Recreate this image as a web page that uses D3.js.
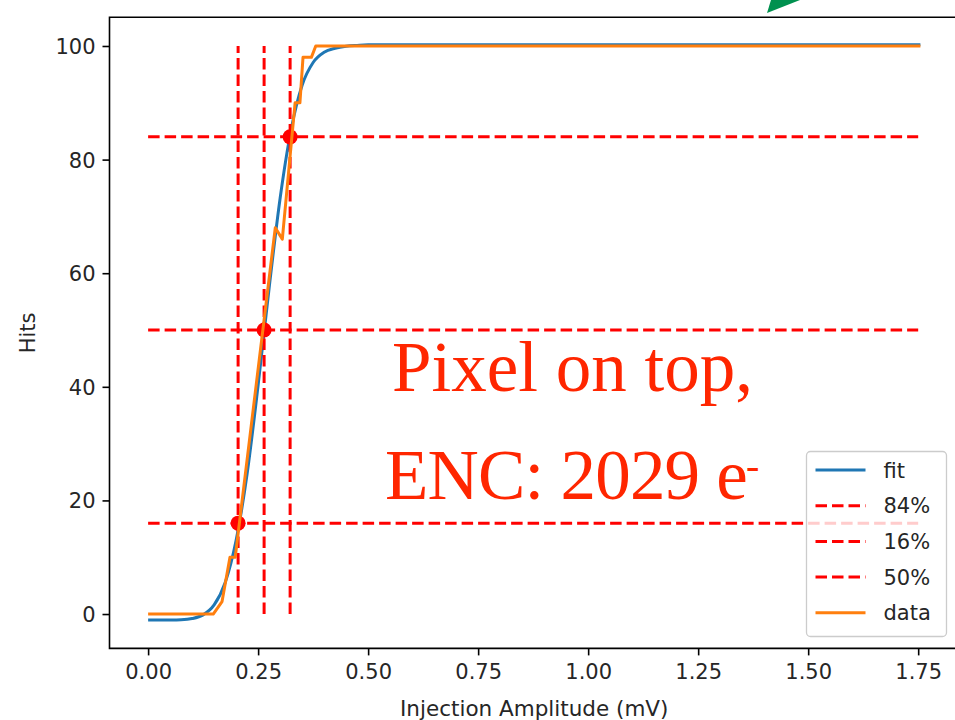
<!DOCTYPE html>
<html>
<head>
<meta charset="utf-8">
<script src="https://cdn.jsdelivr.net/npm/d3@7"></script>
<style>
  html, body { margin: 0; padding: 0; background: #fff; overflow: hidden; }
  svg { display: block; overflow: hidden; }
</style>
</head>
<body>
<div id="chart"></div>
<script>
// fitted s-curve
const fitX = [0, 0.025, 0.05, 0.075, 0.1, 0.125, 0.15, 0.175, 0.2, 0.225, 0.25, 0.275,
  0.3, 0.325, 0.35, 0.375, 0.4, 0.425, 0.45, 0.475, 0.5, 0.6, 0.8, 1.0, 1.25, 1.5, 1.755];
const fitY = [-1.05, -1.05, -1.04, -1.0, -0.8, -0.15, 1.6, 5.5, 13.0, 24.7, 40.3, 57.4,
  73.2, 85.3, 93.1, 97.1, 98.9, 99.6, 99.95, 100.1, 100.2, 100.2, 100.2, 100.2, 100.2, 100.2, 100.2];

// measured hits
const dataX = [0, 0.148, 0.168, 0.186, 0.198, 0.289, 0.305, 0.334, 0.345, 0.352, 0.371, 0.381, 1.755];
const dataY = [0, 0, 2.2, 10, 10, 68, 66, 90, 90, 98, 98, 100, 100];

// threshold levels and where the fit crosses them
const levels = [84, 16, 50];
const levelLabels = ["84%", "16%", "50%"];
const crossX = [0.3227, 0.2045, 0.2636];
const hlineEnd = 1.75;

const xTicks = [0, 0.25, 0.5, 0.75, 1.0, 1.25, 1.5, 1.75];
const yTicks = [0, 20, 40, 60, 80, 100];

const W = 955, H = 720;
const mLeft = 109.5, mRight = 959, mTop = 17.3, mBottom = 648.4;

const blue = "#1f77b4", orange = "#ff7f0e", red = "#ff0000";
const font = "DejaVu Sans, sans-serif";

const svg = d3.select("#chart").append("svg")
  .attr("width", W).attr("height", H)
  .style("font-family", font);

const x = d3.scaleLinear().domain([-0.08775, 1.84275]).range([mLeft, mRight]);
const y = d3.scaleLinear().domain([-6.05, 105.05]).range([mBottom, mTop]);

svg.append("defs").append("clipPath").attr("id", "plotclip")
  .append("rect").attr("x", mLeft).attr("y", mTop)
  .attr("width", W - mLeft).attr("height", mBottom - mTop);

const plot = svg.append("g").attr("clip-path", "url(#plotclip)");

// fit
plot.append("path")
  .datum(fitX.map((v, i) => [v, fitY[i]]))
  .attr("d", d3.line().x((d) => x(d[0])).y((d) => y(d[1])).curve(d3.curveMonotoneX))
  .attr("fill", "none").attr("stroke", blue).attr("stroke-width", 3);

// horizontal threshold lines
levels.forEach((lv) => {
  plot.append("line")
    .attr("x1", x(0)).attr("x2", x(hlineEnd))
    .attr("y1", y(lv)).attr("y2", y(lv))
    .attr("stroke", red).attr("stroke-width", 3)
    .attr("stroke-dasharray", "11.5,5");
});

// vertical lines at the crossings, drawn bottom up
crossX.forEach((cx) => {
  plot.append("line")
    .attr("x1", x(cx)).attr("x2", x(cx))
    .attr("y1", y(0)).attr("y2", y(100))
    .attr("stroke", red).attr("stroke-width", 3)
    .attr("stroke-dasharray", "11.5,5");
});

plot.selectAll("circle.cross")
  .data(crossX.map((v, i) => [v, levels[i]]))
  .join("circle")
  .attr("class", "cross")
  .attr("cx", (d) => x(d[0])).attr("cy", (d) => y(d[1]))
  .attr("r", 7.5).attr("fill", red);

// data
plot.append("path")
  .datum(dataX.map((v, i) => [v, dataY[i]]))
  .attr("d", d3.line().x((d) => x(d[0])).y((d) => y(d[1])))
  .attr("fill", "none").attr("stroke", orange).attr("stroke-width", 3)
  .attr("stroke-linejoin", "round");

// axes
const xAxis = svg.append("g")
  .attr("transform", `translate(0,${mBottom})`)
  .call(d3.axisBottom(x).tickValues(xTicks).tickFormat(d3.format(".2f"))
    .tickSize(7).tickPadding(7));
const yAxis = svg.append("g")
  .attr("transform", `translate(${mLeft},0)`)
  .call(d3.axisLeft(y).tickValues(yTicks).tickSize(7).tickPadding(7));

[xAxis, yAxis].forEach((g) => {
  g.select(".domain").remove();
  g.selectAll(".tick line").attr("stroke", "#000").attr("stroke-width", 1.6);
  g.selectAll(".tick text").attr("fill", "#262626")
    .style("font-size", "21px").style("font-family", font);
});
xAxis.selectAll(".tick text").attr("dy", "0.78em");
yAxis.selectAll(".tick text").attr("dy", "0.36em");

// frame: the right spine falls outside the picture
svg.append("path")
  .attr("d", `M${W},${mTop}H${mLeft}V${mBottom}H${W}`)
  .attr("fill", "none").attr("stroke", "#000").attr("stroke-width", 1.6);

svg.append("text")
  .attr("x", (mLeft + mRight) / 2).attr("y", 716)
  .attr("text-anchor", "middle")
  .attr("fill", "#262626").style("font-size", "21.5px")
  .text("Injection Amplitude (mV)");

svg.append("text")
  .attr("transform", `translate(35,${(mTop + mBottom) / 2}) rotate(-90)`)
  .attr("text-anchor", "middle")
  .attr("fill", "#262626").style("font-size", "21px")
  .text("Hits");

// legend
const legendItems = [
  { label: "fit", color: blue, dash: null },
  { label: levelLabels[0], color: red, dash: "11.5,5" },
  { label: levelLabels[1], color: red, dash: "11.5,5" },
  { label: levelLabels[2], color: red, dash: "11.5,5" },
  { label: "data", color: orange, dash: null },
];
const lg = svg.append("g").attr("transform", "translate(806.5,451.5)");
lg.append("rect")
  .attr("width", 140).attr("height", 185).attr("rx", 4)
  .attr("fill", "#fff").attr("fill-opacity", 0.8)
  .attr("stroke", "#cccccc").attr("stroke-width", 1.3);
legendItems.forEach((it, i) => {
  const ry = 18.5 + i * 35.7;
  lg.append("line")
    .attr("x1", 9).attr("x2", 59).attr("y1", ry).attr("y2", ry)
    .attr("stroke", it.color).attr("stroke-width", 3)
    .attr("stroke-dasharray", it.dash);
  lg.append("text")
    .attr("x", 77).attr("y", ry).attr("dy", "0.36em")
    .attr("fill", "#262626").style("font-size", "21px")
    .text(it.label);
});

// pasted-on note
const note = svg.append("g")
  .attr("fill", "#ff2600")
  .style("font-family", "Liberation Serif, serif")
  .style("font-size", "71px");
note.append("text").attr("x", 392).attr("y", 391).text("Pixel on top,");
const enc = note.append("text").attr("x", 385).attr("y", 499)
  .style("letter-spacing", "-0.8px");
enc.append("tspan").text("ENC: 2029 e");
enc.append("tspan").attr("dx", -1).attr("dy", -20).style("font-size", "40px").text("-");

// green arrow tip cut by the top edge
svg.append("path")
  .attr("d", "M767,13 L771,0 L800,0 Z")
  .attr("fill", "#00914f");
</script>
</body>
</html>
